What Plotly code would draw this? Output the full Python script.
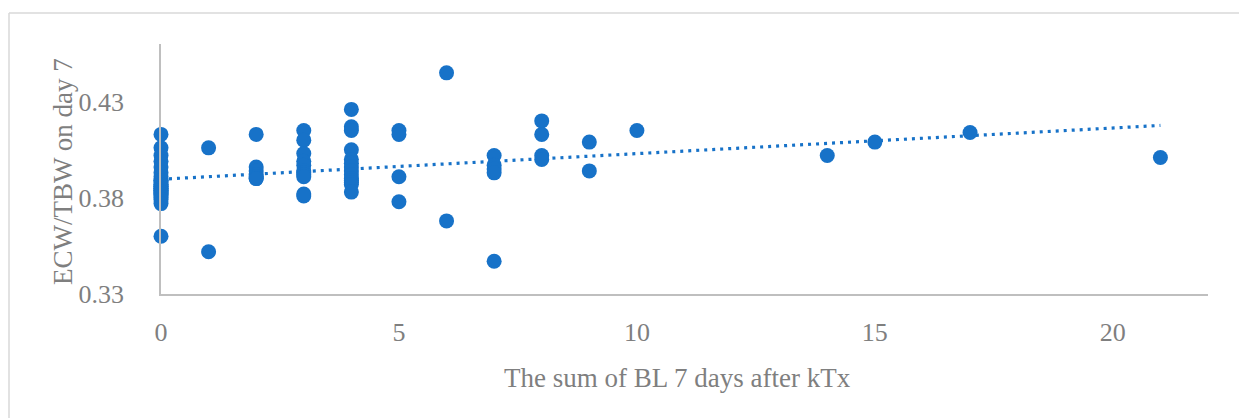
import numpy as np
import plotly.graph_objects as go

# Sum of BL 7 days after kTx (x) and ECW/TBW on day 7 (y)
bl_sum = (
    [0] * 27 + [1] * 2 + [2] * 7 + [3] * 11 + [4] * 14 + [5] * 4 + [6] * 2
    + [7] * 5 + [8] * 4 + [9] * 2 + [10] + [14] + [15] + [17] + [21]
)
ecw_tbw = [
    # x = 0
    0.413, 0.406, 0.402, 0.399, 0.396, 0.393, 0.391, 0.389, 0.389, 0.388,
    0.387, 0.387, 0.386, 0.386, 0.385, 0.385, 0.384, 0.384, 0.383, 0.383,
    0.382, 0.382, 0.381, 0.380, 0.379, 0.377, 0.360,
    # x = 1
    0.406, 0.352,
    # x = 2
    0.413, 0.396, 0.394, 0.392, 0.391, 0.390, 0.390,
    # x = 3
    0.415, 0.410, 0.403, 0.399, 0.397, 0.394, 0.393, 0.392, 0.391, 0.382, 0.381,
    # x = 4
    0.426, 0.417, 0.415, 0.405, 0.400, 0.398, 0.396, 0.394, 0.392, 0.390,
    0.389, 0.388, 0.387, 0.383,
    # x = 5
    0.415, 0.413, 0.391, 0.378,
    # x = 6
    0.445, 0.368,
    # x = 7
    0.402, 0.397, 0.395, 0.393, 0.347,
    # x = 8
    0.420, 0.413, 0.402, 0.400,
    # x = 9
    0.409, 0.394,
    # x = 10
    0.415,
    # x = 14, 15, 17, 21
    0.402, 0.409, 0.414, 0.401,
]

y_ticks = [0.33, 0.38, 0.43]
x_ticks = [0, 5, 10, 15, 20]

x_title = "The sum of BL 7 days after kTx"
y_title = "ECW/TBW on day 7"

BLUE = "#1772C8"
GRAY_TEXT = "#7F7F7F"
AXIS = "#BFBFBF"
FONT = "Liberation Serif"

# Linear trendline (least squares), drawn over the data's x extent
slope, intercept = np.polyfit(bl_sum, ecw_tbw, 1)
trend_x = [min(bl_sum), max(bl_sum)]
trend_y = [intercept + slope * v for v in trend_x]

fig = go.Figure()
fig.add_trace(go.Scatter(
    x=trend_x, y=trend_y, mode="lines",
    line=dict(color=BLUE, width=3.2, dash="3px,5px"),
    hoverinfo="skip", showlegend=False, cliponaxis=False,
))
fig.add_trace(go.Scatter(
    x=bl_sum, y=ecw_tbw, mode="markers",
    marker=dict(color=BLUE, size=15, line=dict(width=0)),
    showlegend=False, cliponaxis=False,
))

fig.update_layout(
    width=1239, height=418,
    margin=dict(l=161, r=31, t=44, b=124, autoexpand=False),
    paper_bgcolor="white", plot_bgcolor="white",
    font=dict(family=FONT, color=GRAY_TEXT, size=26),
    xaxis=dict(
        range=[0, 22], tickvals=x_ticks, showgrid=False, zeroline=False,
        showline=True, linecolor=AXIS, linewidth=1.5,
        ticks="", ticklabelstandoff=14,
        tickfont=dict(family=FONT, size=26, color=GRAY_TEXT),
    ),
    yaxis=dict(
        range=[0.33, 0.46], tickvals=y_ticks, tickformat=".2f",
        showgrid=False, zeroline=False,
        showline=True, linecolor=AXIS, linewidth=1.5,
        ticks="", ticklabelstandoff=30,
        tickfont=dict(family=FONT, size=26, color=GRAY_TEXT),
    ),
    annotations=[
        dict(text=x_title, xref="paper", yref="paper",
             x=(677 - 161) / 1047, y=(294 - 378) / 250,
             xanchor="center", yanchor="middle", showarrow=False,
             font=dict(family=FONT, size=27, color=GRAY_TEXT)),
        dict(text=y_title, xref="paper", yref="paper",
             x=(63 - 161) / 1047, y=(294 - 172) / 250, textangle=-90,
             xanchor="center", yanchor="middle", showarrow=False,
             font=dict(family=FONT, size=27, color=GRAY_TEXT)),
    ],
    shapes=[
        dict(type="line", xref="paper", yref="paper",
             x0=(9 - 161) / 1047, x1=1.2, y0=1 + (44 - 13) / 250, y1=1 + (44 - 13) / 250,
             line=dict(color="#D9D9D9", width=1.5)),
        dict(type="line", xref="paper", yref="paper",
             x0=(9 - 161) / 1047, x1=(9 - 161) / 1047, y0=1 + (44 - 13) / 250, y1=-1,
             line=dict(color="#D9D9D9", width=1.5)),
    ],
)

fig.write_html("out.html")
